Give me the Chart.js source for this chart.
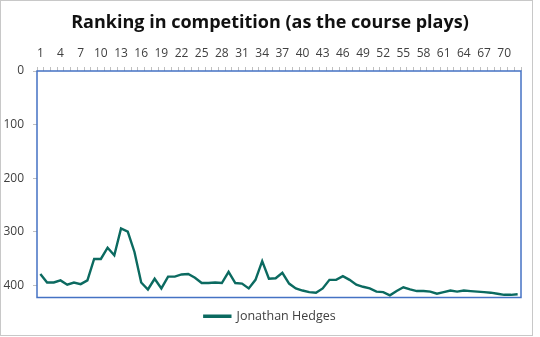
<!DOCTYPE html>
<html>
<head>
<meta charset="utf-8">
<title>Ranking in competition</title>
<script src="https://cdn.jsdelivr.net/npm/chart.js@4.4.1/dist/chart.umd.min.js"></script>
<style>
  html, body { margin: 0; padding: 0; background: #ffffff; }
  #wrap { position: relative; width: 540px; height: 337px; }
</style>
</head>
<body>
<div id="wrap"><canvas id="chart" width="540" height="337"></canvas></div>
<script>
// Round numbers (holes played in sequence)
const rounds = Array.from({ length: 72 }, (_, i) => String(i + 1));

// Position in the field after each round
const jonathanHedges = [
  379, 395, 395, 391, 399, 395, 398, 391, 351, 351,
  330, 344, 294, 300, 338, 395, 408, 388, 406, 384,
  384, 380, 379, 386, 396, 396, 395, 396, 375, 396,
  397, 406, 390, 355, 388, 387, 377, 397, 406, 410,
  413, 414, 406, 390, 390, 383, 390, 399, 403, 406,
  412, 413, 419, 411, 404, 408, 411, 411, 412, 416,
  413, 410, 412, 410, 411, 412, 413, 414, 416, 418,
  418, 417
];

// Ranking axis ticks
const rankTicks = [0, 100, 200, 300, 400];
const rankMax = 423;

const teal = '#0b6a60';
const tickGrey = '#bfbfbf';
const labelColor = '#404040';
const fontFamily = "'Open Sans', 'Noto Sans', sans-serif";

// Blue frame around the plot area and a light frame around the whole chart
const frames = {
  id: 'frames',
  beforeDatasetsDraw(chart) {
    const { ctx, chartArea: a } = chart;
    ctx.save();
    ctx.strokeStyle = '#4472c4';
    ctx.lineWidth = 1.5;
    ctx.strokeRect(a.left, a.top, a.right - a.left, a.bottom - a.top);
    ctx.restore();
  },
  afterDraw(chart) {
    const { ctx } = chart;
    ctx.save();
    ctx.strokeStyle = '#c8c8c8';
    ctx.lineWidth = 1;
    ctx.strokeRect(0.5, 0.5, 532, 335);
    ctx.restore();
  }
};

new Chart(document.getElementById('chart'), {
  type: 'line',
  data: {
    labels: rounds,
    datasets: [{
      label: 'Jonathan Hedges',
      data: jonathanHedges,
      borderColor: teal,
      backgroundColor: teal,
      borderWidth: 2.4,
      pointRadius: 0,
      tension: 0
    }]
  },
  options: {
    responsive: false,
    animation: false,
    layout: { padding: { left: 0, right: 0, top: 0, bottom: 4.5 } },
    plugins: {
      title: {
        display: true,
        text: 'Ranking in competition (as the course plays)',
        color: '#111111',
        font: { family: fontFamily, size: 18, weight: 'bold' },
        padding: { top: 12, bottom: 4 }
      },
      legend: {
        display: true,
        position: 'bottom',
        labels: {
          color: labelColor,
          font: { family: fontFamily, size: 12.5 },
          boxWidth: 26,
          boxHeight: 1,
          padding: 12.5
        }
      },
      tooltip: { enabled: false }
    },
    scales: {
      x: {
        position: 'top',
        offset: true,
        grid: {
          offset: true,
          drawOnChartArea: false,
          drawTicks: true,
          tickLength: 4,
          color: tickGrey
        },
        border: { display: false },
        ticks: {
          autoSkip: false,
          maxRotation: 0,
          padding: 6,
          color: labelColor,
          font: { family: fontFamily, size: 12 },
          callback: (v, i) => (i % 3 === 0 ? rounds[i] : '')
        },
        afterFit(scale) { scale.height = 33.4; }
      },
      y: {
        reverse: true,
        min: 0,
        max: rankMax,
        afterBuildTicks(scale) { scale.ticks = rankTicks.map(v => ({ value: v })); },
        grid: {
          drawOnChartArea: false,
          drawTicks: true,
          tickLength: 4,
          color: tickGrey
        },
        border: { display: false },
        ticks: {
          padding: 9,
          color: labelColor,
          font: { family: fontFamily, size: 12 }
        },
        afterFit(scale) { scale.width = 37; }
      },
      // empty margin to the right of the plot area
      yRight: {
        position: 'right',
        display: true,
        grid: { display: false },
        border: { display: false },
        ticks: { display: false },
        afterFit(scale) { scale.width = 19; }
      }
    }
  },
  plugins: [frames]
});
</script>
</body>
</html>
